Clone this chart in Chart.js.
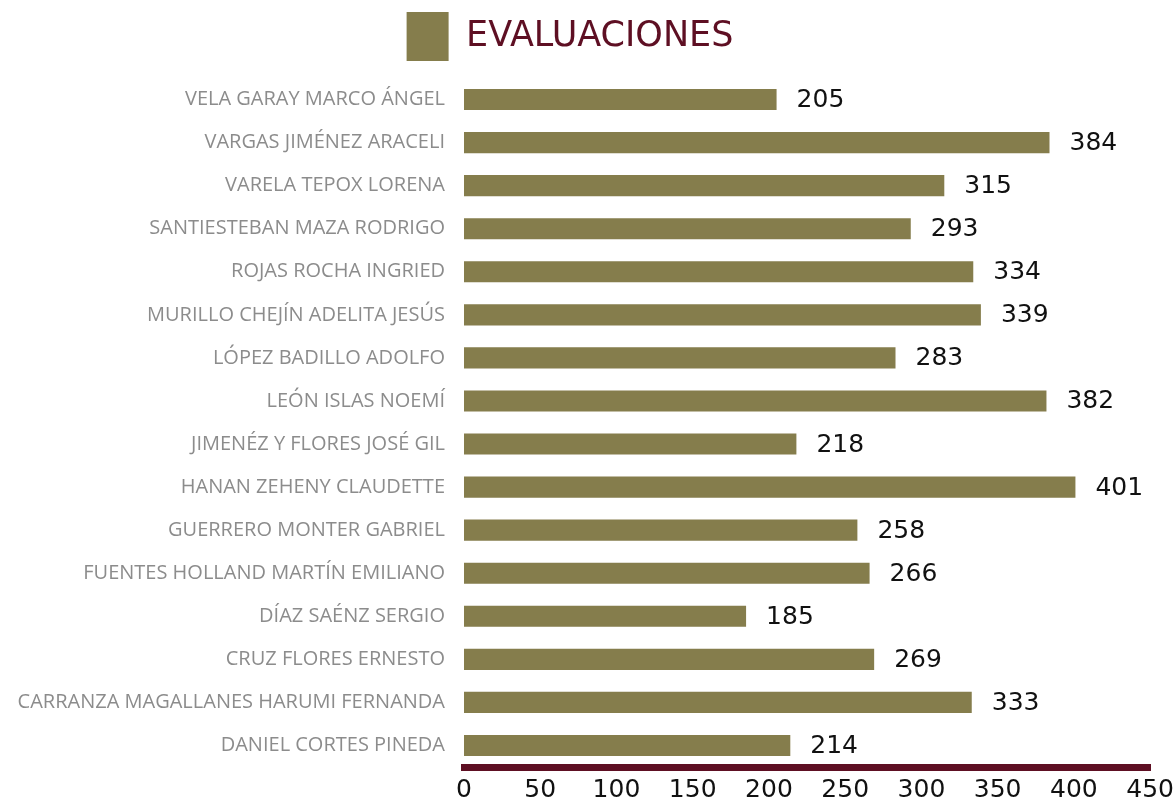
<!DOCTYPE html>
<html>
<head>
<meta charset="utf-8">
<script src="https://cdn.jsdelivr.net/npm/chart.js@4"></script>
<style>
  html, body { margin: 0; padding: 0; background: #fff; }
  #wrap { width: 1174px; height: 803px; }
</style>
</head>
<body>
<div id="wrap"><canvas id="evalChart" width="1174" height="803"></canvas></div>
<script>
// datos del gráfico
const nombres = [
    'VELA GARAY MARCO ÁNGEL',
    'VARGAS JIMÉNEZ ARACELI',
    'VARELA TEPOX LORENA',
    'SANTIESTEBAN MAZA RODRIGO',
    'ROJAS ROCHA INGRIED',
    'MURILLO CHEJÍN ADELITA JESÚS',
    'LÓPEZ BADILLO ADOLFO',
    'LEÓN ISLAS NOEMÍ',
    'JIMENÉZ Y FLORES JOSÉ GIL',
    'HANAN ZEHENY CLAUDETTE',
    'GUERRERO MONTER GABRIEL',
    'FUENTES HOLLAND MARTÍN EMILIANO',
    'DÍAZ SAÉNZ SERGIO',
    'CRUZ FLORES ERNESTO',
    'CARRANZA MAGALLANES HARUMI FERNANDA',
    'DANIEL CORTES PINEDA'
];
const evaluaciones = [205, 384, 315, 293, 334, 339, 283, 382, 218, 401, 258, 266, 185, 269, 333, 214];
const serieNombre = 'EVALUACIONES';
const ejeMin = 0;
const ejeMax = 450;
const ejePaso = 50;

const colorBarra = '#857d4c';
const colorGuinda = '#5e0f23';

// ===== etiquetas de valor al final de cada barra =====
const etiquetasValor = {
    id: 'etiquetasValor',
    afterDatasetsDraw(chart) {
        const ctx = chart.ctx;
        const meta = chart.getDatasetMeta(0);
        ctx.save();
        ctx.font = '25px "DejaVu Sans"';
        ctx.fillStyle = '#111';
        ctx.textAlign = 'left';
        ctx.textBaseline = 'middle';
        meta.data.forEach((bar, i) => {
            ctx.fillText(String(evaluaciones[i]), bar.x + 20, bar.y + 1);
        });
        ctx.restore();
    }
};

// un poco más de espacio debajo de la leyenda, y leyenda algo a la izquierda
const espacioLeyenda = {
    id: 'espacioLeyenda',
    beforeInit(chart) {
        const fitOriginal = chart.legend.fit;
        chart.legend.fit = function () {
            fitOriginal.bind(chart.legend)();
            this.height += 7;
        };
    },
    afterLayout(chart) {
        chart.legend.right -= 32;
    }
};

new Chart(document.getElementById('evalChart'), {
    type: 'bar',
    data: {
        labels: nombres,
        datasets: [{
            label: serieNombre,
            data: evaluaciones,
            backgroundColor: colorBarra,
            barPercentage: 0.98,
            categoryPercentage: 0.5
        }]
    },
    options: {
        indexAxis: 'y',
        responsive: false,
        animation: false,
        layout: { padding: { top: 0, right: 2, bottom: 0, left: 0 } },
        plugins: {
            legend: {
                position: 'top',
                labels: {
                    boxWidth: 42,
                    boxHeight: 49,
                    padding: 12,
                    color: colorGuinda,
                    font: { family: '"DejaVu Sans"', size: 35 }
                }
            },
            tooltip: { enabled: false }
        },
        scales: {
            x: {
                min: ejeMin,
                max: ejeMax,
                ticks: {
                    stepSize: ejePaso,
                    color: '#111',
                    padding: 0,
                    maxRotation: 0,
                    font: { family: '"DejaVu Sans"', size: 25 }
                },
                grid: { display: false },
                border: { display: true, color: colorGuinda, width: 7 },
                afterFit(scale) { scale.height = 36; }
            },
            y: {
                ticks: {
                    color: '#8c8c8c',
                    padding: 11,
                    font: { family: '"Open Sans"', size: 20 }
                },
                grid: { display: false },
                border: { display: false },
                afterFit(scale) { scale.width = 464; }
            }
        }
    },
    plugins: [etiquetasValor, espacioLeyenda]
});
</script>
</body>
</html>
